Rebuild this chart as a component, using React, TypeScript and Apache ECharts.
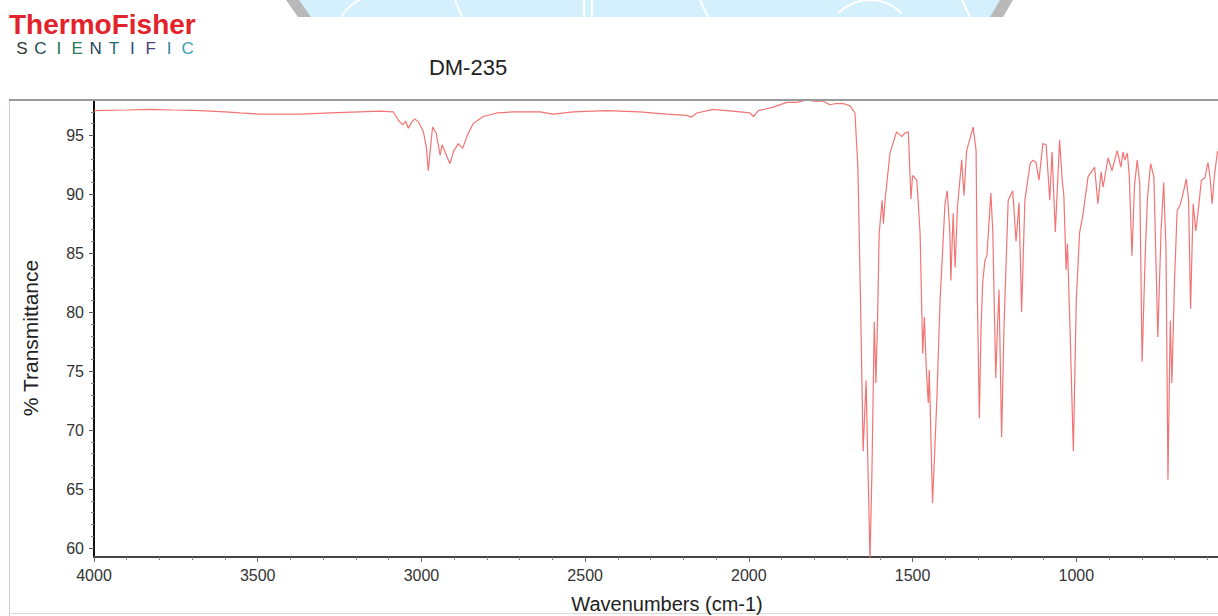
import React, { useEffect, useRef } from "react";
import * as echarts from "echarts";

const wavenumbers: number[] = [
  4000, 3900, 3829, 3760, 3676, 3600, 3554, 3493, 3430, 3371, 3279, 3188, 3127, 3086, 3071, 3057, 3048, 3040, 3030, 3020,
  3008, 2994, 2985, 2979, 2972, 2966, 2955, 2943, 2937, 2925, 2913, 2901, 2887, 2874, 2860, 2842, 2811, 2770, 2719, 2668,
  2638, 2597, 2536, 2434, 2333, 2251, 2190, 2175, 2159, 2109, 2027, 1997, 1986, 1971, 1925, 1884, 1854, 1823, 1800, 1773,
  1752, 1735, 1712, 1691, 1676, 1667, 1659, 1651, 1642, 1636, 1630, 1624, 1617, 1612, 1607, 1602, 1593, 1589, 1584, 1569,
  1549, 1533, 1523, 1513, 1508, 1505, 1500, 1487, 1477, 1469, 1464, 1458, 1452, 1449, 1439, 1426, 1416, 1401, 1394, 1386,
  1383, 1376, 1370, 1363, 1350, 1343, 1335, 1315, 1306, 1302, 1296, 1291, 1286, 1279, 1273, 1261, 1255, 1246, 1241, 1236,
  1228, 1221, 1208, 1194, 1184, 1175, 1167, 1157, 1141, 1132, 1123, 1114, 1102, 1092, 1081, 1074, 1064, 1051, 1043, 1038,
  1031, 1027, 1019, 1009, 1000, 990, 980, 964, 944, 934, 924, 918, 903, 891, 875, 864, 857, 852, 844, 838,
  830, 822, 814, 806, 799, 790, 783, 773, 763, 751, 741, 733, 726, 720, 713, 708, 700, 692, 683, 677,
  664, 657, 651, 643, 635, 628, 618, 607, 598, 592, 585, 578, 569, 550, 500,
];

const transmittance: number[] = [
  97.1, 97.15, 97.2, 97.15, 97.1, 97.0, 96.9, 96.8, 96.8, 96.8, 96.9, 97.0, 97.05, 97.0, 96.3, 95.9, 96.2, 95.6, 96.1, 96.4,
  96.1, 95.3, 94.0, 92.0, 94.0, 95.7, 95.2, 93.3, 94.2, 93.4, 92.6, 93.7, 94.3, 93.9, 95.0, 96.0, 96.6, 96.9, 97.0, 97.0,
  97.0, 96.8, 97.0, 97.1, 97.0, 96.8, 96.7, 96.55, 96.9, 97.2, 97.0, 96.9, 96.6, 97.1, 97.4, 97.8, 97.8, 98.0, 97.9, 97.9,
  97.6, 97.7, 97.7, 97.5, 96.9, 92.3, 81.0, 68.2, 74.2, 66.6, 59.0, 66.6, 79.2, 74.0, 79.3, 86.7, 89.5, 87.5, 89.5, 93.5,
  95.3, 94.9, 95.2, 95.3, 91.8, 89.6, 91.6, 91.2, 86.7, 76.5, 79.6, 75.1, 72.3, 75.1, 63.8, 72.5, 81.0, 89.2, 90.3, 86.7,
  82.7, 88.4, 83.8, 88.9, 92.9, 89.9, 93.7, 95.7, 93.7, 81.0, 71.0, 78.5, 82.5, 84.4, 84.8, 90.1, 86.9, 74.4, 78.5, 81.9,
  69.4, 78.5, 89.5, 90.3, 86.0, 89.3, 80.0, 89.5, 92.6, 92.9, 92.7, 91.2, 94.3, 94.2, 89.5, 93.6, 86.8, 94.6, 91.2, 89.9,
  83.6, 85.8, 78.5, 68.2, 81.0, 86.7, 88.2, 91.5, 92.3, 89.2, 91.9, 90.6, 93.1, 92.0, 93.7, 92.3, 93.6, 92.9, 93.5, 91.5,
  84.8, 90.8, 92.9, 90.9, 75.8, 84.4, 89.5, 92.6, 91.5, 77.9, 87.0, 91.0, 85.3, 65.8, 79.3, 74.0, 82.7, 88.6, 89.1, 89.7,
  91.3, 89.5, 80.3, 89.2, 86.9, 88.5, 91.2, 91.4, 92.7, 91.6, 89.2, 91.6, 93.6, 94.0, 93.0,
];

const xLabelValues: number[] = [4000, 3500, 3000, 2500, 2000, 1500, 1000];
const yLabelValues: number[] = [60, 65, 70, 75, 80, 85, 90, 95];
const yMinorValues: number[] = [
  61, 62, 63, 64, 66, 67, 68, 69, 71, 72, 73, 74, 76, 77, 78, 79, 81, 82, 83, 84, 86, 87, 88, 89, 91, 92, 93, 94, 96, 97,
];

const title = "DM-235";
const xName = "Wavenumbers (cm-1)";
const yName = "% Transmittance";
const scientificLetters: string[] = ["S", "C", "I", "E", "N", "T", "I", "F", "I", "C"];
const scientificColors: string[] = [
  "#2d3b3b", "#1f4e4e", "#1b6a58", "#2b7a5c", "#1f3f5c", "#1f6a72", "#2b4b7c", "#4b3c7c", "#2a8a9c", "#3aa0b4",
];

const FONT = "'Liberation Sans', Arial, Helvetica, sans-serif";

export default function App() {
  const ref = useRef<HTMLDivElement>(null);
  useEffect(() => {
    if (!ref.current) return;
    const chart = echarts.init(ref.current, undefined, { renderer: "svg" });
    const data = wavenumbers.map((w, i) => [w, transmittance[i]]);
    const graphics: any[] = [
      // watermark strip at top
      { type: "rect", shape: { x: 298, y: 0, width: 705, height: 17 }, style: { fill: "#d4f0fc" }, silent: true },
      { type: "polygon", shape: { points: [[286, 0], [299, 0], [311, 17], [298, 17]] }, style: { fill: "#b9b9b9" } },
      { type: "polygon", shape: { points: [[1000, 0], [1013, 0], [1003, 17], [990, 17]] }, style: { fill: "#b9b9b9" } },
      { type: "arc", shape: { cx: 380, cy: 40, r: 45, startAngle: Math.PI * 1.05, endAngle: Math.PI * 1.5 }, style: { stroke: "#fff", lineWidth: 2, fill: "none" } },
      { type: "line", shape: { x1: 455, y1: 0, x2: 462, y2: 17 }, style: { stroke: "#fff", lineWidth: 2 } },
      { type: "line", shape: { x1: 584, y1: 0, x2: 584, y2: 17 }, style: { stroke: "#fff", lineWidth: 2 } },
      { type: "line", shape: { x1: 592, y1: 0, x2: 592, y2: 17 }, style: { stroke: "#fff", lineWidth: 2 } },
      { type: "line", shape: { x1: 700, y1: 0, x2: 708, y2: 17 }, style: { stroke: "#fff", lineWidth: 2 } },
      { type: "arc", shape: { cx: 870, cy: 45, r: 45, startAngle: Math.PI * 1.25, endAngle: Math.PI * 1.75 }, style: { stroke: "#fff", lineWidth: 2, fill: "none" } },
      { type: "line", shape: { x1: 962, y1: 0, x2: 970, y2: 17 }, style: { stroke: "#fff", lineWidth: 2 } },
      // logo
      {
        type: "text", x: 9, y: 38,
        style: { text: "ThermoFisher", fill: "#e3232b", font: `bold 28px ${FONT}`, textVerticalAlign: "bottom" },
      },
      ...scientificLetters.map((ch, i) => ({
        type: "text", x: 22 + i * 18.4, y: 48,
        style: { text: ch, fill: scientificColors[i], font: `17px ${FONT}`, textAlign: "center", textVerticalAlign: "middle" },
      })),
      // title
      {
        type: "text", x: 468, y: 67,
        style: { text: title, fill: "#222", font: `22px ${FONT}`, textAlign: "center", textVerticalAlign: "middle" },
      },
      // y axis name
      {
        type: "text", x: 30, y: 338, rotation: Math.PI / 2,
        style: { text: yName, fill: "#222", font: `21px ${FONT}`, textAlign: "center", textVerticalAlign: "middle" },
      },
      // frame
      { type: "line", shape: { x1: 9, y1: 100, x2: 1240, y2: 100 }, style: { stroke: "#9a9a9a", lineWidth: 2 }, z: 100 },
      { type: "line", shape: { x1: 9.5, y1: 100, x2: 9.5, y2: 616 }, style: { stroke: "#d8c8cc", lineWidth: 1 } },
      { type: "line", shape: { x1: 9, y1: 613.5, x2: 1240, y2: 613.5 }, style: { stroke: "#dddddd", lineWidth: 1 } },
    ];
    chart.setOption({
      animation: false,
      backgroundColor: "#fff",
      grid: { left: 94, right: 0, top: 100, bottom: 59, containLabel: false, outerBoundsMode: "none" },
      xAxis: {
        type: "value",
        inverse: true,
        min: 500,
        max: 4000,
        interval: 500,
        name: xName,
        nameLocation: "middle",
        nameGap: 37,
        nameTextStyle: { fontFamily: FONT, fontSize: 20, color: "#222" },
        axisLine: { show: true, lineStyle: { color: "#444", width: 2 } },
        axisTick: { show: true, length: 5, lineStyle: { color: "#666" } },
        minorTick: { show: true, splitNumber: 5, length: 3, lineStyle: { color: "#888" } },
        axisLabel: {
          fontFamily: FONT, fontSize: 16, color: "#333", margin: 10,
          customValues: xLabelValues,
          formatter: (v: number) => String(v),
        },
        splitLine: { show: false },
      },
      yAxis: [
        {
          type: "value",
          min: 59.24,
          max: 98.0,
          axisLine: { show: true, lineStyle: { color: "#111", width: 2 } },
          axisTick: { show: true, length: 5, customValues: yLabelValues, lineStyle: { color: "#555" } },
          axisLabel: { fontFamily: FONT, fontSize: 16, color: "#333", margin: 10, customValues: yLabelValues },
          splitLine: { show: false },
        },
        {
          type: "value",
          min: 59.24,
          max: 98.0,
          position: "left",
          axisLine: { show: false },
          axisTick: { show: true, length: 3, customValues: yMinorValues, lineStyle: { color: "#888" } },
          axisLabel: { show: false },
          splitLine: { show: false },
        },
      ],
      series: [
        {
          type: "line",
          data,
          showSymbol: false,
          symbol: "none",
          yAxisIndex: 0,
          lineStyle: { color: "#f27474", width: 1.2 },
          clip: true,
        },
      ],
      graphic: graphics,
    });
    return () => chart.dispose();
  }, []);
  return (
    <div style={{ position: "absolute", left: 0, top: 0, width: 1218, height: 616, overflow: "hidden", background: "#fff" }}>
      <div ref={ref} style={{ width: 1240, height: 616 }} />
    </div>
  );
}
